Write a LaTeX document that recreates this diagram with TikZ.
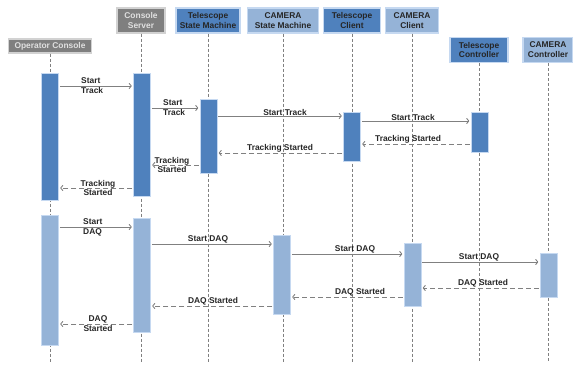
\documentclass[tikz,border=0pt]{standalone}
\usepackage{fontspec}
\setmainfont{Liberation Sans}
\usetikzlibrary{arrows.meta,calc}
\definecolor{tdark}{HTML}{4F81BD}
\definecolor{clight}{HTML}{95B3D7}
\definecolor{cgray}{HTML}{7F7F7F}
\definecolor{edge}{HTML}{C6D9F1}
\definecolor{msg}{HTML}{808080}

\begin{document}
\begin{tikzpicture}[x=1pt,y=-1pt,
	every node/.style={font=\fontsize{8.4}{9.8}\selectfont\bfseries, text=black!85},
	head/.style={draw=edge, line width=1.1pt, inner sep=0pt, align=center, minimum height=25pt},
	grayhead/.style={head, fill=cgray, draw=gray!35, text=white!88!black},
	telhead/.style={head, fill=tdark},
	camhead/.style={head, fill=clight},
	life/.style={msg, line width=0.9pt, dash pattern=on 3pt off 2pt},
	bar/.style={draw=edge, line width=0.5pt, inner sep=0pt, minimum width=17pt, anchor=north},
	dkbar/.style={bar, fill=tdark},
	ltbar/.style={bar, fill=clight},
	call/.style={msg, line width=0.9pt, -{To[length=3pt,width=6pt]}, shorten <=1pt, shorten >=1.5pt},
	reply/.style={call, dash pattern=on 5pt off 3pt},
	lab/.style={inner sep=0.6pt, anchor=south},
	lab2/.style={inner sep=0pt, align=left, anchor=west},
	lab2c/.style={inner sep=0pt, align=center}]
	\useasboundingbox (0,0) rectangle (573,369);
	
	% lifeline heads
	\node[grayhead, minimum width=83pt, minimum height=14pt] (os) at (50,46) {Operator Console};
	\node[grayhead, minimum width=48pt] (cs) at (141,20.5) {Console\\Server};
	\node[telhead, minimum width=64pt] (tsm) at (208,20.5) {Telescope\\State Machine};
	\node[camhead, minimum width=71pt] (csm) at (283,20.5) {CAMERA\\State Machine};
	\node[telhead, minimum width=57pt] (tc) at (352,20.5) {Telescope\\Client};
	\node[camhead, minimum width=53pt] (cc) at (412,20.5) {CAMERA\\Client};
	\node[telhead, minimum width=58pt] (tco) at (479,50) {Telescope\\Controller};
	\node[camhead, minimum width=50pt] (cco) at (548,50) {CAMERA\\Controller};
	
	\def\yend{362}
	\foreach \h in {os,cs,tsm,csm,tc,cc,tco,cco}
		\draw[life] (\h.south) -- (\h.south |- 0,\yend);
	
	% activations
	\node[dkbar, minimum height=127pt] (osA) at (50,73) {};
	\node[ltbar, minimum height=130pt] (osB) at (50,215) {};
	\node[dkbar, minimum height=123pt] (csA) at (142,73) {};
	\node[ltbar, minimum height=114pt] (csB) at (142,218) {};
	\node[dkbar, minimum height=74pt] (tsmA) at (208.5,99) {};
	\node[ltbar, minimum height=79pt] (csmB) at (282,235) {};
	\node[dkbar, minimum height=49pt] (tcA) at (352,112) {};
	\node[ltbar, minimum height=63pt] (ccB) at (412.5,243) {};
	\node[dkbar, minimum height=40pt] (tcoA) at (479.5,112) {};
	\node[ltbar, minimum height=44pt] (ccoB) at (548.5,253) {};
	
	% tracking
	\draw[call] (osA.east |- 0,86) -- (csA.west |- 0,86);
	\node[lab2] (m1) at (81,86) {Start\\Track};
	\draw[call] (csA.east |- 0,108) -- (tsmA.west |- 0,108);
	\node[lab2] (m2) at (163,108) {Start\\Track};
	\draw[call] (tsmA.east |- 0,116) -- (tcA.west |- 0,116);
	\node[lab] (m3) at (285,116) {Start Track};
	\draw[call] (tcA.east |- 0,121) -- (tcoA.west |- 0,121);
	\node[lab] (m4) at (413,121) {Start Track};
	\draw[reply] (tcoA.west |- 0,144) -- (tcA.east |- 0,144);
	\node[lab] (m5) at (408,144) {Tracking Started};
	\draw[reply] (tcA.west |- 0,153) -- (tsmA.east |- 0,153);
	\node[lab] (m6) at (280,153) {Tracking Started};
	\draw[reply] (tsmA.west |- 0,165) -- (csA.east |- 0,165);
	\node[lab2c] (m7) at (172,165) {Tracking\\Started};
	\draw[reply] (csA.west |- 0,188) -- (osA.east |- 0,188);
	\node[lab2c] (m8) at (98,188) {Tracking\\Started};
	
	% data acquisition
	\draw[call] (osB.east |- 0,227) -- (csB.west |- 0,227);
	\node[lab2] (m9) at (83,227) {Start\\DAQ};
	\draw[call] (csB.east |- 0,244) -- (csmB.west |- 0,244);
	\node[lab] (m10) at (208,244) {Start DAQ};
	\draw[call] (csmB.east |- 0,254) -- (ccB.west |- 0,254);
	\node[lab] (m11) at (355,254) {Start DAQ};
	\draw[call] (ccB.east |- 0,262) -- (ccoB.west |- 0,262);
	\node[lab] (m12) at (479,262) {Start DAQ};
	\draw[reply] (ccoB.west |- 0,288) -- (ccB.east |- 0,288);
	\node[lab] (m13) at (483,288) {DAQ Started};
	\draw[reply] (ccB.west |- 0,297) -- (csmB.east |- 0,297);
	\node[lab] (m14) at (360,297) {DAQ Started};
	\draw[reply] (csmB.west |- 0,306) -- (csB.east |- 0,306);
	\node[lab] (m15) at (213,306) {DAQ Started};
	\draw[reply] (csB.west |- 0,324) -- (osB.east |- 0,324);
	\node[lab2c] (m16) at (98,324) {DAQ\\Started};
\end{tikzpicture}
\end{document}
